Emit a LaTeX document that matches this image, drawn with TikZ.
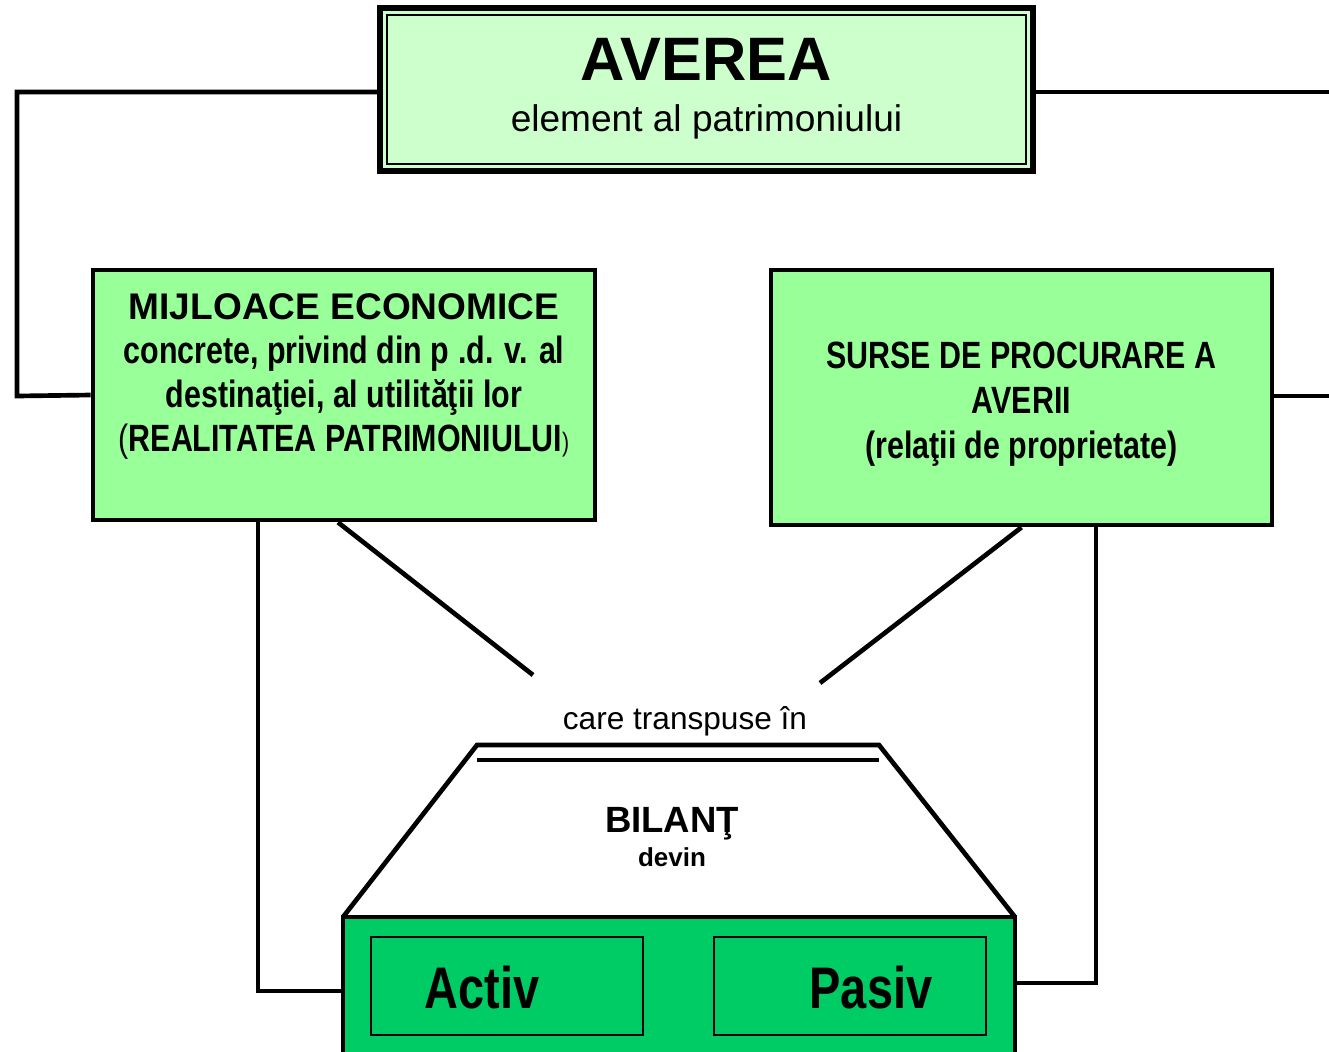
\documentclass[tikz,border=0pt]{standalone}
\usepackage{fontspec}
\setmainfont{Liberation Sans}
\newfontfamily\narrowfont[FakeStretch=0.8]{Liberation Sans}
\definecolor{palegreen}{HTML}{CCFFCC}
\definecolor{boxgreen}{HTML}{99FF99}
\definecolor{darkgreen}{HTML}{00CC66}

\begin{document}
\begin{tikzpicture}[x=0.75pt,y=-0.75pt,
  greenbox/.style={draw,line width=3.5pt,fill=boxgreen,inner sep=0pt},
  partbox/.style={draw,line width=1.5pt,minimum width=204pt,minimum height=73.5pt,inner sep=0pt},
  conn/.style={line width=3.5pt}]
\useasboundingbox (0,0) rectangle (1329,1051);

% cadrul de sus
\node[draw,line width=4.5pt,fill=palegreen,minimum width=489.75pt,minimum height=122.25pt,
  inner sep=0pt,align=center,font=\fontsize{27.8}{38.25}\selectfont] (avere) at (706.5,89)
  {{\bfseries\fontsize{46}{46}\selectfont AVEREA}\\element al patrimoniului};
\node[draw,line width=1.5pt,minimum width=479.25pt,minimum height=111.75pt,inner sep=0pt] (avereinner) at (avere.center) {};

% cele doua laturi
\node[greenbox,minimum width=376.5pt,minimum height=187.5pt] (mijloace) at (344,395) {};
\node[align=center,font=\narrowfont\bfseries\fontsize{28.5}{33}\selectfont] (mijloacetext) at (344,376)
  {{\fontspec{Liberation Sans}\bfseries\fontsize{27.8}{33}\selectfont MIJLOACE ECONOMICE}\\
   concrete, privind din p .d. v. al\\
   destinaţiei, al utilităţii lor\\
   {\mdseries(}REALITATEA PATRIMONIULUI{\mdseries\fontsize{20}{33}\selectfont)}};

\node[greenbox,minimum width=375.75pt,minimum height=191.25pt,align=center,
  font=\narrowfont\bfseries\fontsize{28.5}{34}\selectfont] (surse) at (1021.5,397.5) {};
\node[align=center,font=\narrowfont\bfseries\fontsize{28.5}{34}\selectfont] (sursetext) at (1021.5,404)
  {SURSE DE PROCURARE A\\AVERII\\(relaţii de proprietate)};

% legaturi
\coordinate (lturn) at (17,396);
\coordinate (rtop) at (1329,92);
\coordinate (rmid) at (1329,396);
\coordinate (lbot) at (258,991);
\coordinate (rbot) at (1096,983);
\coordinate (ldiag) at (533,675);
\coordinate (rdiag) at (820,683);
\draw[conn] ([yshift=-2.25pt]avere.west) -| (lturn) -- (mijloace.west);
\draw[conn] ([yshift=-2.25pt]avere.east) -- (rtop);
\draw[conn] (surse.east |- rmid) -- (rmid);
\draw[conn] ([xshift=-4.5pt]mijloace.south) -- (ldiag);
\draw[conn] (surse.south) -- (rdiag);

\node[font=\fontsize{23.7}{26}\selectfont] (care) at (685,721) {care transpuse în};

% bilantul
\draw[line width=3.5pt] (343,917) -- (477,745) -- (879,745) -- (1015,917);
\draw[line width=3.5pt] (477,760) -- (879,760);
\node[align=center,font=\bfseries\fontsize{27.4}{25.5}\selectfont] (bilanttext) at (672,837)
  {BILANŢ\\{\fontsize{19.5}{20}\selectfont devin}};

\node[draw,line width=3.5pt,fill=darkgreen,minimum width=504pt,minimum height=111pt,inner sep=0pt] (bilant) at (679,991) {};
\node[partbox] (activ) at (507,986) {};
\node[partbox] (pasiv) at (850,986) {};
\node[anchor=base,font=\narrowfont\bfseries\fontsize{44}{44}\selectfont] (activtext) at (482,1008) {Activ};
\node[anchor=base,font=\narrowfont\bfseries\fontsize{44}{44}\selectfont] (pasivtext) at (871,1008) {Pasiv};

\draw[conn] (mijloace.south -| lbot) -- (lbot) -- (bilant.west);
\draw[conn] (surse.south -| rbot) -- (rbot) -- (bilant.east |- rbot);
\end{tikzpicture}
\end{document}
